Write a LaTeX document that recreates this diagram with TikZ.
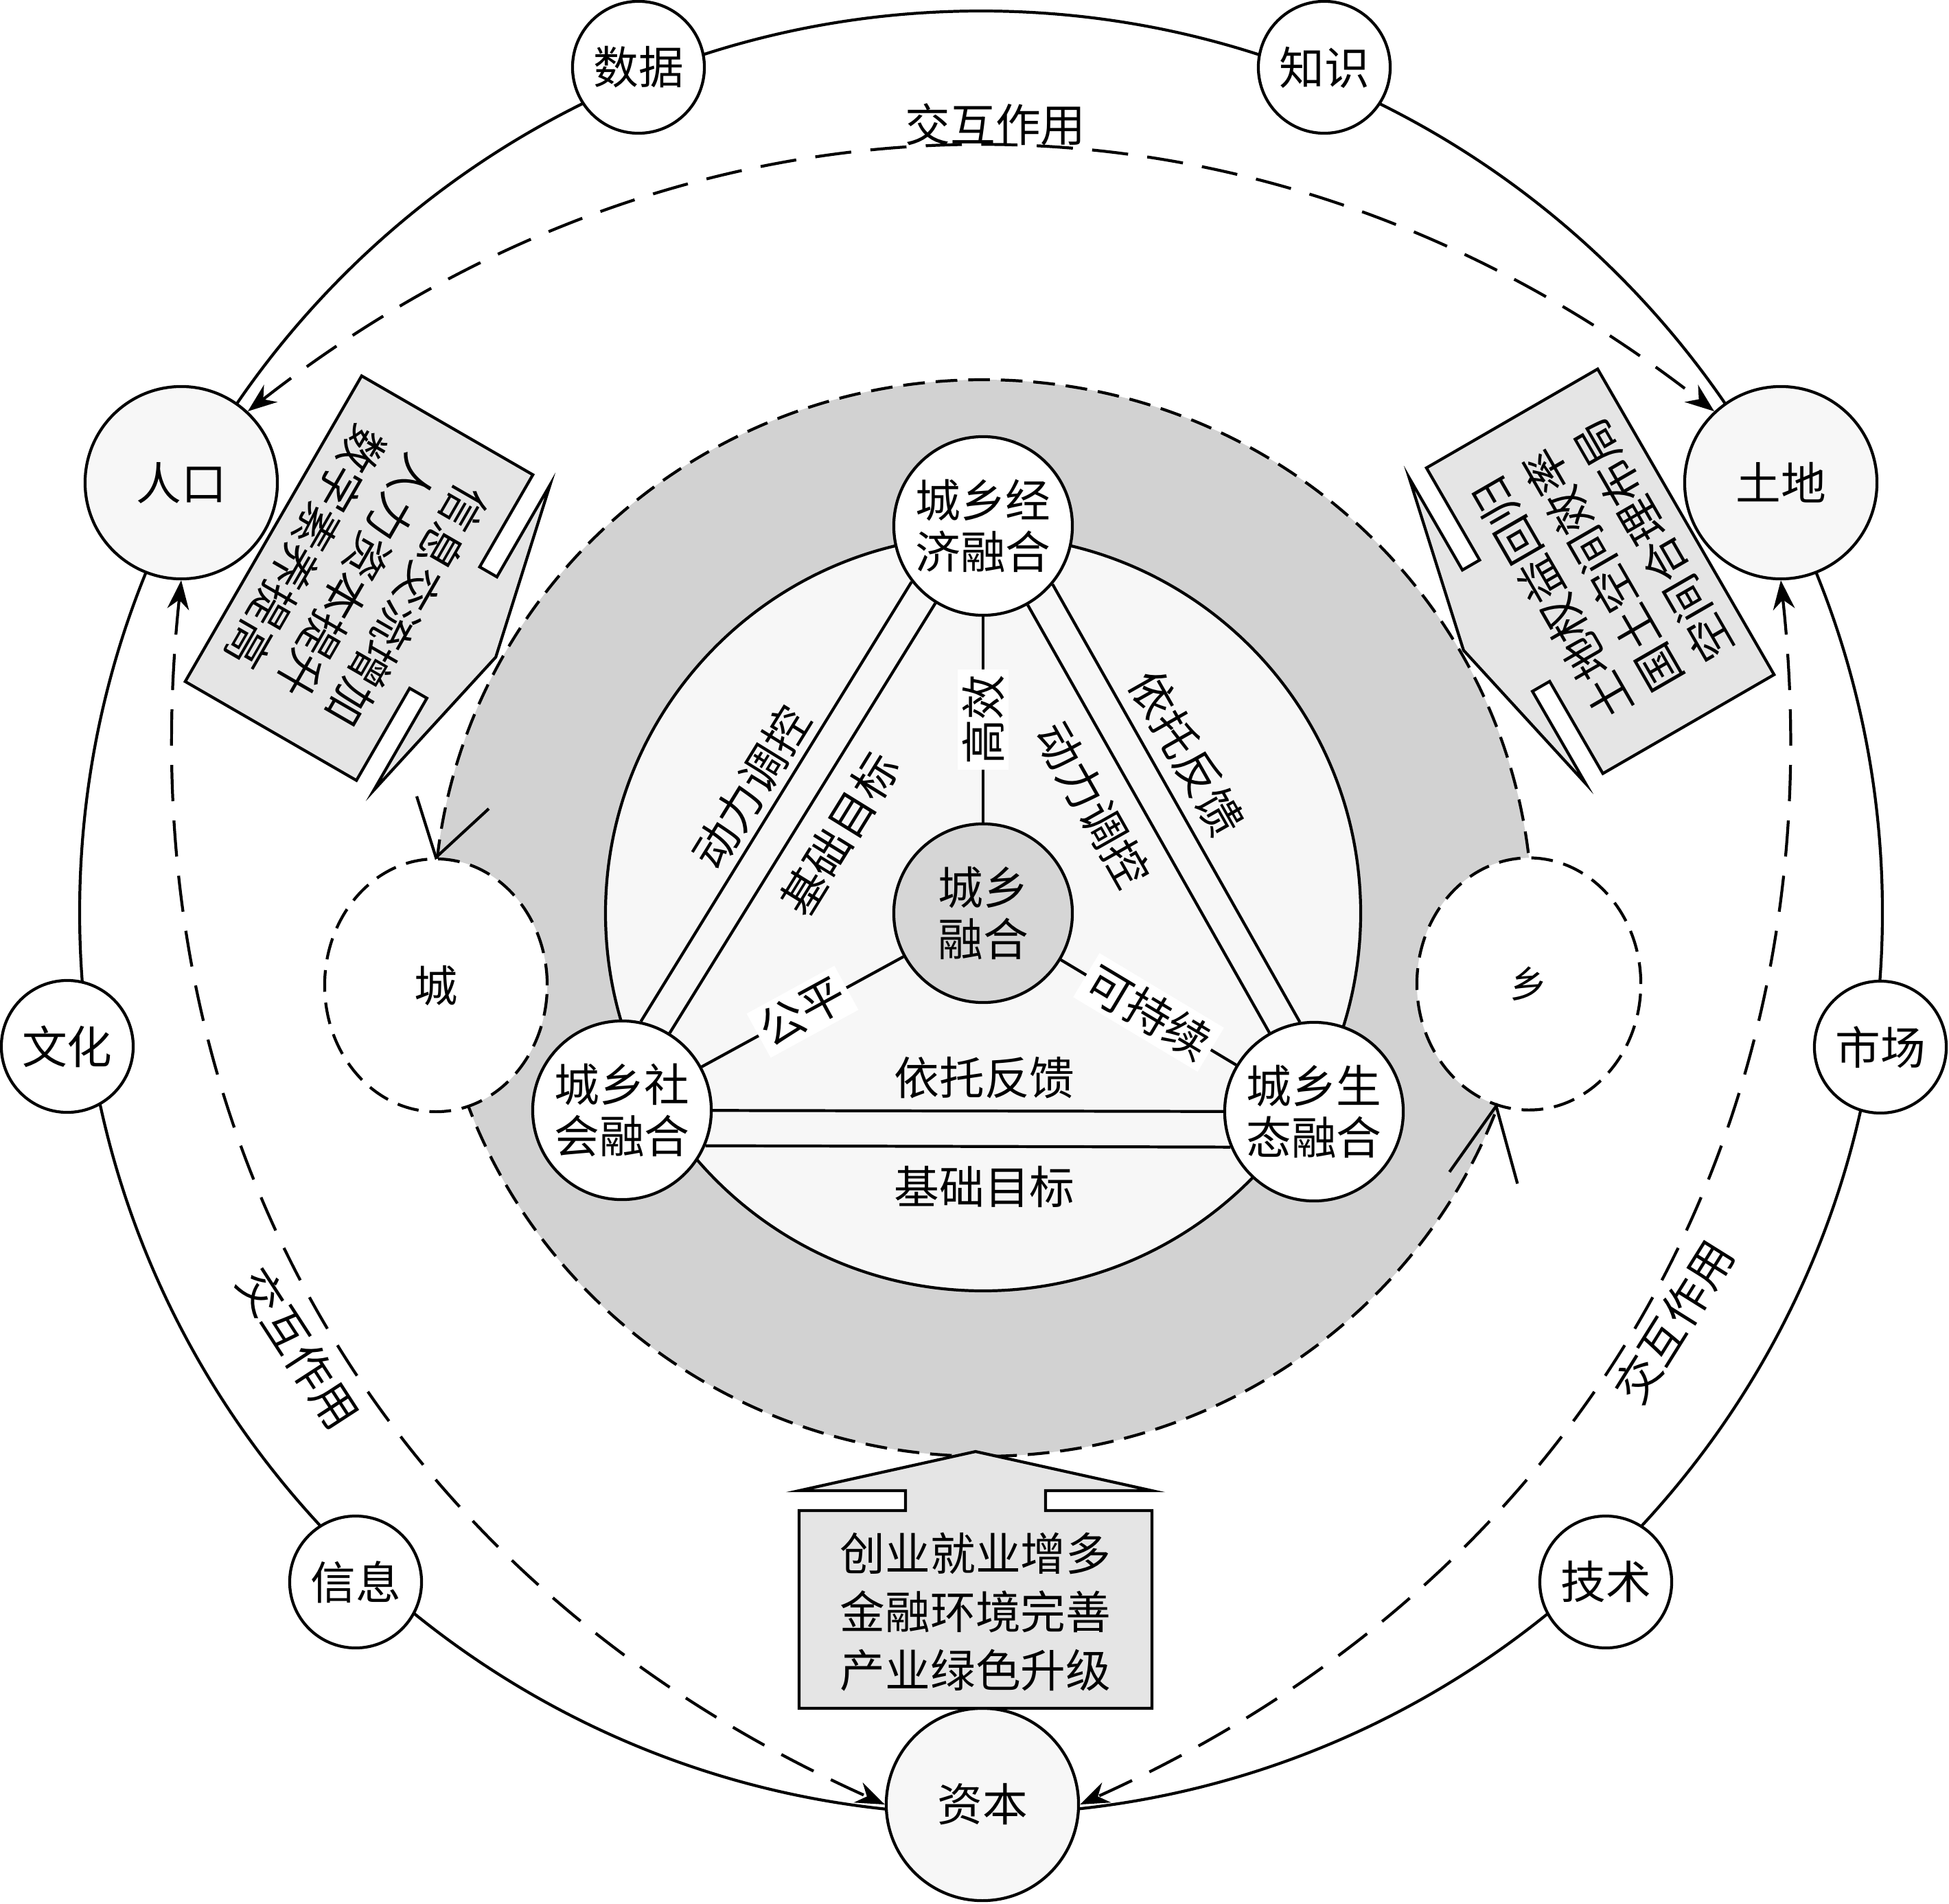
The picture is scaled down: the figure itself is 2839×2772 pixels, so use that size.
\documentclass[tikz,border=0pt]{standalone}
\usepackage{fontspec}
\newfontfamily\cjk{Noto Sans CJK SC}
\usetikzlibrary{arrows.meta,shapes.geometric}

\tikzset{
  elem/.style={shape=circle, draw=black, fill=white, minimum size=1.92cm, inner sep=0pt},
  bigelem/.style={elem, fill=gray!6, minimum size=2.8cm},
  fuse/.style={shape=circle, draw=black, fill=white, minimum size=2.6cm, inner sep=0pt,
    align=center, font=\cjk\fontsize{18.7}{21.3}\selectfont},
  zonedash/.style={dash pattern=on 9pt off 4.5pt},
  zone/.style={shape=ellipse, draw=black, zonedash, fill=white, inner sep=0pt},
  flow/.style={dash pattern=on 15pt off 8pt,
    {Stealth[length=12pt,width=9pt]}-{Stealth[length=12pt,width=9pt]}},
  spoke/.style={midway, sloped, fill=white, inner sep=2pt},
  calltext/.style={align=center, inner sep=0pt, font=\cjk\fontsize{18.7}{24.2}\selectfont},
  callout/.pic={
    \draw[fill=gray!20] (-257,-144) -- (-257,144) -- (-102,144) -- (-102,173)
      -- (-257,173) -- (0,230) -- (257,173) -- (102,173) -- (102,144)
      -- (257,144) -- (257,-144) -- cycle;
  }
}

\begin{document}
\begin{tikzpicture}[x=0.01cm, y=0.01cm, line width=1.2pt, font=\cjk\fontsize{18.7}{22}\selectfont]
    \useasboundingbox (0,0) rectangle (2839,-2772);

    % outer ring of factors
    \draw (1429,-1329) circle (1313);
    \node[elem] (shuju) at (930,-98) {数据};
    \node[elem] (zhishi) at (1929,-98) {知识};
    \node[bigelem] (renkou) at (264,-703) {人口};
    \node[bigelem] (tudi) at (2594,-703) {土地};
    \node[elem] (wenhua) at (98,-1524) {文化};
    \node[elem] (shichang) at (2739,-1525) {市场};
    \node[elem] (xinxi) at (518,-2304) {信息};
    \node[elem] (jishu) at (2339,-2304) {技术};
    \node[bigelem] (ziben) at (1431,-2628) {资本};

    % interaction
    \path (renkou.47) edge[flow, bend left=38] (tudi.133);
    \path (renkou.south) edge[flow, bend right=36] (ziben.west);
    \path (tudi.south) edge[flow, bend left=36] (ziben.east);
    \node (jh1) at (1450,-181) {交互作用};
    \node[rotate=-57] (jh2) at (435,-1964) {交互作用};
    \node[rotate=58] (jh3) at (2438,-1925) {交互作用};

    % grey zone with town and village
    \draw[zonedash, fill=gray!35] (1432,-1337) ellipse [x radius=800, y radius=784];
    \node[zone, minimum width=3.24cm, minimum height=3.68cm,
      font=\cjk\fontsize{18}{20}\selectfont] (cheng) at (635,-1435) {城};
    \node[zone, minimum width=3.26cm, minimum height=3.67cm,
      font=\cjk\fontsize{15.5}{18}\selectfont] (xiang) at (2227,-1433) {乡};
    \draw (cheng.north) ++(-28,89) -- (cheng.north) -- ++(77,71);
    \draw (xiang.-105) ++(-68,-96) -- (xiang.-105) -- ++(31,-113);

    % callouts
    \begin{scope}[shift={(523,-842)}, rotate=-120]
        \pic[transform shape] {callout};
        \node[calltext, transform shape] (rktext) at (0,-4) {信息交流增加\\人力资本提升\\数字素养提高};
    \end{scope}
    \begin{scope}[shift={(2331,-832)}, rotate=120]
        \pic[transform shape] {callout};
        \node[calltext, transform shape] (tdtext) at (0,-4) {土地权益回归\\国土空间效率\\空间合理布局};
    \end{scope}
    \begin{scope}[shift={(1421,-2344)}]
        \pic {callout};
        \node[calltext] (zbtext) at (0,-4) {创业就业增多\\金融环境完善\\产业绿色升级};
    \end{scope}

    % inner triangle
    \draw[fill=gray!6] (1432,-1330) circle (550);
    \node[fuse] (econ) at (1432,-766) {城乡经\\济融合};
    \node[fuse] (social) at (906,-1617) {城乡社\\会融合};
    \node[fuse] (eco) at (1914,-1619) {城乡生\\态融合};
    \node[fuse, fill=gray!32] (core) at (1432,-1330) {城乡\\融合};

    \path (econ) edge (social) (econ.218) edge (social.78);
    \path (econ) edge (eco) (econ.-40) edge (eco.99);
    \path (social) edge (eco) (social.-23) edge (eco.203);

    \path (core) edge node[spoke] (lbgx) {高效} (econ);
    \path (core) edge node[spoke] (lbgp) {公平} (social);
    \path (core) edge node[spoke] (lbkc) {可持续} (eco);

    \node[rotate=58.3] (ldong) at (1094,-1147) {动力调控};
    \node[rotate=58.3] (ljichu) at (1223,-1214) {基础目标};
    \node[rotate=-60.5] (ryituo) at (1729,-1097) {依托反馈};
    \node[rotate=-60.5] (rdong) at (1592,-1172) {动力调控};
    \node (byituo) at (1434,-1570) {依托反馈};
    \node (bjichu) at (1434,-1728) {基础目标};
\end{tikzpicture}
\end{document}
